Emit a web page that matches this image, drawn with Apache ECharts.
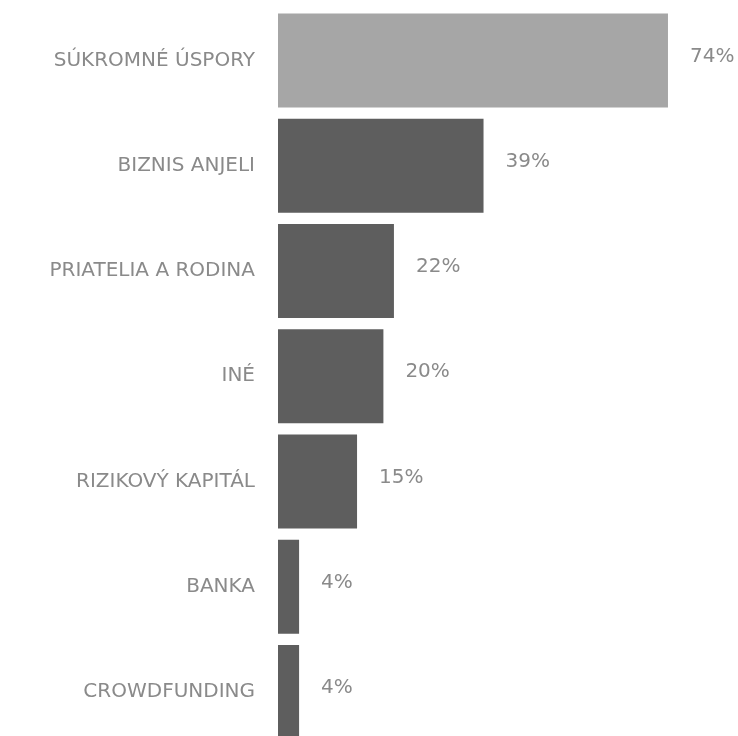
<!DOCTYPE html>
<html>
<head>
<meta charset="utf-8">
<script src="https://cdn.jsdelivr.net/npm/echarts@6/dist/echarts.min.js"></script>
<style>html,body{margin:0;padding:0;background:#fff;}#c{width:738px;height:736px;}</style>
</head>
<body>
<div id="c"></div>
<script>
const categories = ['SÚKROMNÉ ÚSPORY', 'BIZNIS ANJELI', 'PRIATELIA A RODINA', 'INÉ', 'RIZIKOVÝ KAPITÁL', 'BANKA', 'CROWDFUNDING'];
const values = [74, 39, 22, 20, 15, 4, 4];
const barColors = ['#a6a6a6', '#5e5e5e', '#5e5e5e', '#5e5e5e', '#5e5e5e', '#5e5e5e', '#5e5e5e'];

const chart = echarts.init(document.getElementById('c'));
chart.setOption({
  animation: false,
  grid: { left: 278, top: 7.9, width: 527, height: 736.75, containLabel: false, outerBoundsMode: 'none' },
  xAxis: { type: 'value', min: 0, max: 100, show: false },
  yAxis: {
    type: 'category', data: categories, inverse: true,
    axisLine: { show: false }, axisTick: { show: false }, splitLine: { show: false },
    axisLabel: { color: '#8a8a8a', fontSize: 20, fontFamily: 'DejaVu Sans', margin: 23, padding: [7, 0, 0, 0] }
  },
  series: [{
    type: 'bar',
    data: values.map((v, i) => ({ value: v, itemStyle: { color: barColors[i] } })),
    barWidth: 94,
    label: {
      show: true, position: 'right', distance: 22,
      formatter: '{c}%', color: '#8a8a8a', fontSize: 20, fontFamily: 'DejaVu Sans',
      offset: [0, -4]
    }
  }]
});
</script>
</body>
</html>
